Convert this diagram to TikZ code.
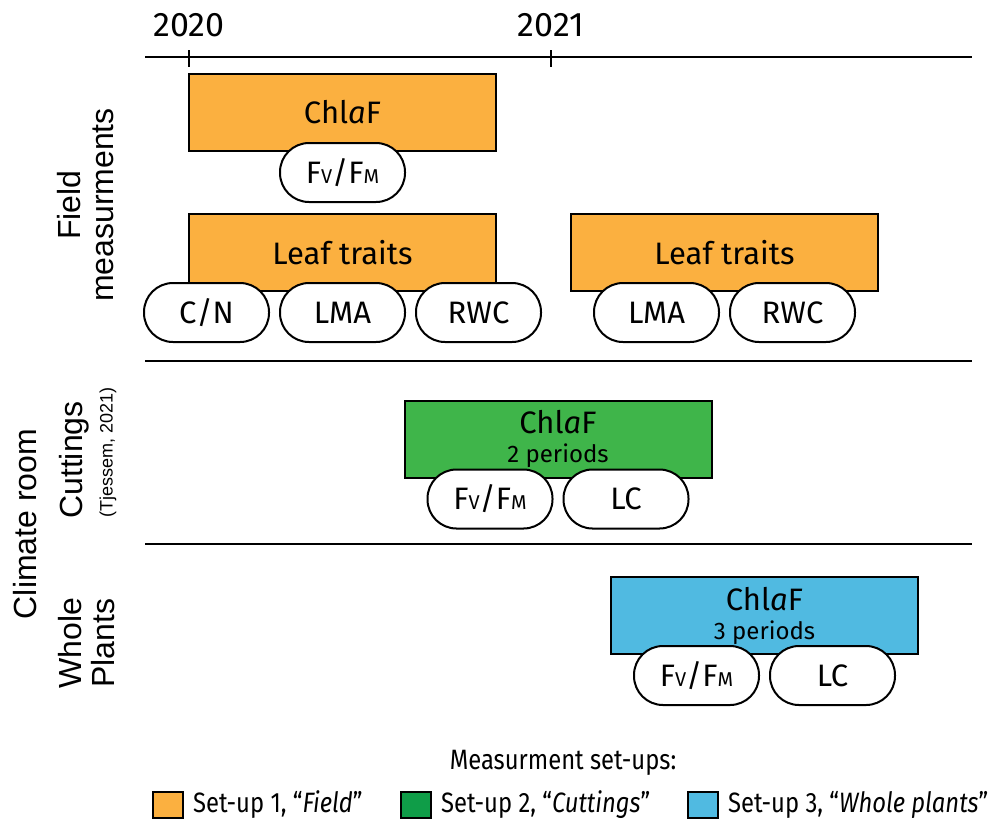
\documentclass[tikz,border=0pt]{standalone}
\usepackage{fontspec}
\setmainfont{Fira Sans}
\newfontfamily\sidefont{Liberation Sans}
\newfontfamily\legfont[FakeStretch=0.85]{Fira Sans}
\usetikzlibrary{positioning}
\definecolor{fieldc}{HTML}{FBB040}
\definecolor{cutc}{HTML}{3FB54A}
\definecolor{cutleg}{HTML}{0F9D48}
\definecolor{wholec}{HTML}{50BAE1}
\tikzstyle{setup} = [rectangle, minimum width=153.5pt, minimum height=38.5pt, text centered, draw=black, line width=1pt, font=\fontsize{15.5}{18}\selectfont]
\tikzstyle{field} = [setup, fill=fieldc]
\tikzstyle{cut} = [setup, fill=cutc, align=center, font=\fontsize{15.5}{14.5}\selectfont]
\tikzstyle{whole} = [setup, fill=wholec, align=center, font=\fontsize{15.5}{14.5}\selectfont]
\tikzstyle{pill} = [rectangle, rounded corners=14.5pt, minimum width=62.5pt, minimum height=29.5pt, text centered, draw=black, fill=white, line width=1pt, font=\fontsize{15.5}{18}\selectfont]
\tikzstyle{sidelab} = [rotate=90, align=center, font=\sidefont\fontsize{16}{16.5}\selectfont]
\tikzstyle{legsq} = [rectangle, minimum width=15pt, minimum height=13pt, draw=black, line width=1pt]
\tikzstyle{legend} = [font=\legfont\fontsize{14}{16}\selectfont]
\tikzstyle{rule} = [line width=0.6pt]
\newcommand{\chla}{Chl\textit{a}F}
\newcommand{\fvfm}{F{\fontsize{10}{12}\selectfont V}/F{\fontsize{10}{12}\selectfont M}}
\newcommand{\periods}[1]{\\{\fontsize{12}{14.5}\selectfont #1 periods}}
\def\pdx{68pt}

\begin{document}
\begin{tikzpicture}[x=0.5pt, y=-0.5pt, node distance=30pt]
\useasboundingbox (0,0) rectangle (997,821);

% time axis
\coordinate (axL) at (145,57);
\coordinate (axR) at (972,57);
\draw [rule] (axL) -- (axR);
\node (yA) [font=\fontsize{17}{18}\selectfont] at (189,25) {2020};
\node (yB) [font=\fontsize{17}{18}\selectfont] at (551,25) {2021};
\draw [rule] (189,50) -- (189,67);
\draw [rule] (551,50) -- (551,67);

% section rules
\coordinate (sAL) at (145,361);
\coordinate (sAR) at (972,361);
\coordinate (sBL) at (145,544);
\coordinate (sBR) at (972,544);
\draw [rule] (sAL) -- (sAR);
\draw [rule] (sBL) -- (sBR);

% side labels
\node (fieldlab) [sidelab] at (86,205) {Field\\measurments};
\node (climlab) [sidelab] at (25,524) {Climate room};
\node (cutlab) [sidelab] at (74,460) {Cuttings};
\node (tjlab) [sidelab, font=\sidefont\fontsize{9}{10}\selectfont] at (108,452) {(Tjessem, 2021)};
\node (wholelab) [sidelab] at (87,643) {Whole\\Plants};

% field measurments
\node (chlaF) [field] at (342.5,112.5) {\chla};
\node (fvfmA) [pill, below of=chlaF] {\fvfm};

\node (leafA) [field] at (342.5,252.5) {Leaf traits};
\node (cn) [pill, below of=leafA, xshift=-\pdx] {C/N};
\node (lmaA) [pill, below of=leafA] {LMA};
\node (rwcA) [pill, below of=leafA, xshift=\pdx] {RWC};

\node (leafB) [field] at (724.5,252.5) {Leaf traits};
\node (lmaB) [pill, below of=leafB, xshift=-0.5*\pdx] {LMA};
\node (rwcB) [pill, below of=leafB, xshift=0.5*\pdx] {RWC};

% climate room: cuttings
\node (chlaC) [cut] at (558,439) {\chla\periods{2}};
\node (fvfmC) [pill, below of=chlaC, xshift=-0.5*\pdx] {\fvfm};
\node (lcC) [pill, below of=chlaC, xshift=0.5*\pdx] {LC};

% climate room: whole plants
\node (chlaW) [whole] at (764.5,615.5) {\chla\periods{3}};
\node (fvfmW) [pill, below of=chlaW, xshift=-0.5*\pdx] {\fvfm};
\node (lcW) [pill, below of=chlaW, xshift=0.5*\pdx] {LC};

% legend
\node (legtitle) [legend] at (563,763) {Measurment set-ups:};
\node (sqA) [legsq, fill=fieldc] at (168,805) {};
\node (txA) [legend, right=1pt of sqA] {Set-up 1, “\textit{Field}”};
\node (sqB) [legsq, fill=cutleg] at (416,805) {};
\node (txB) [legend, right=1pt of sqB] {Set-up 2, “\textit{Cuttings}”};
\node (sqC) [legsq, fill=wholec] at (703,805) {};
\node (txC) [legend, right=1pt of sqC] {Set-up 3, “\textit{Whole plants}”};

\end{tikzpicture}
\end{document}
